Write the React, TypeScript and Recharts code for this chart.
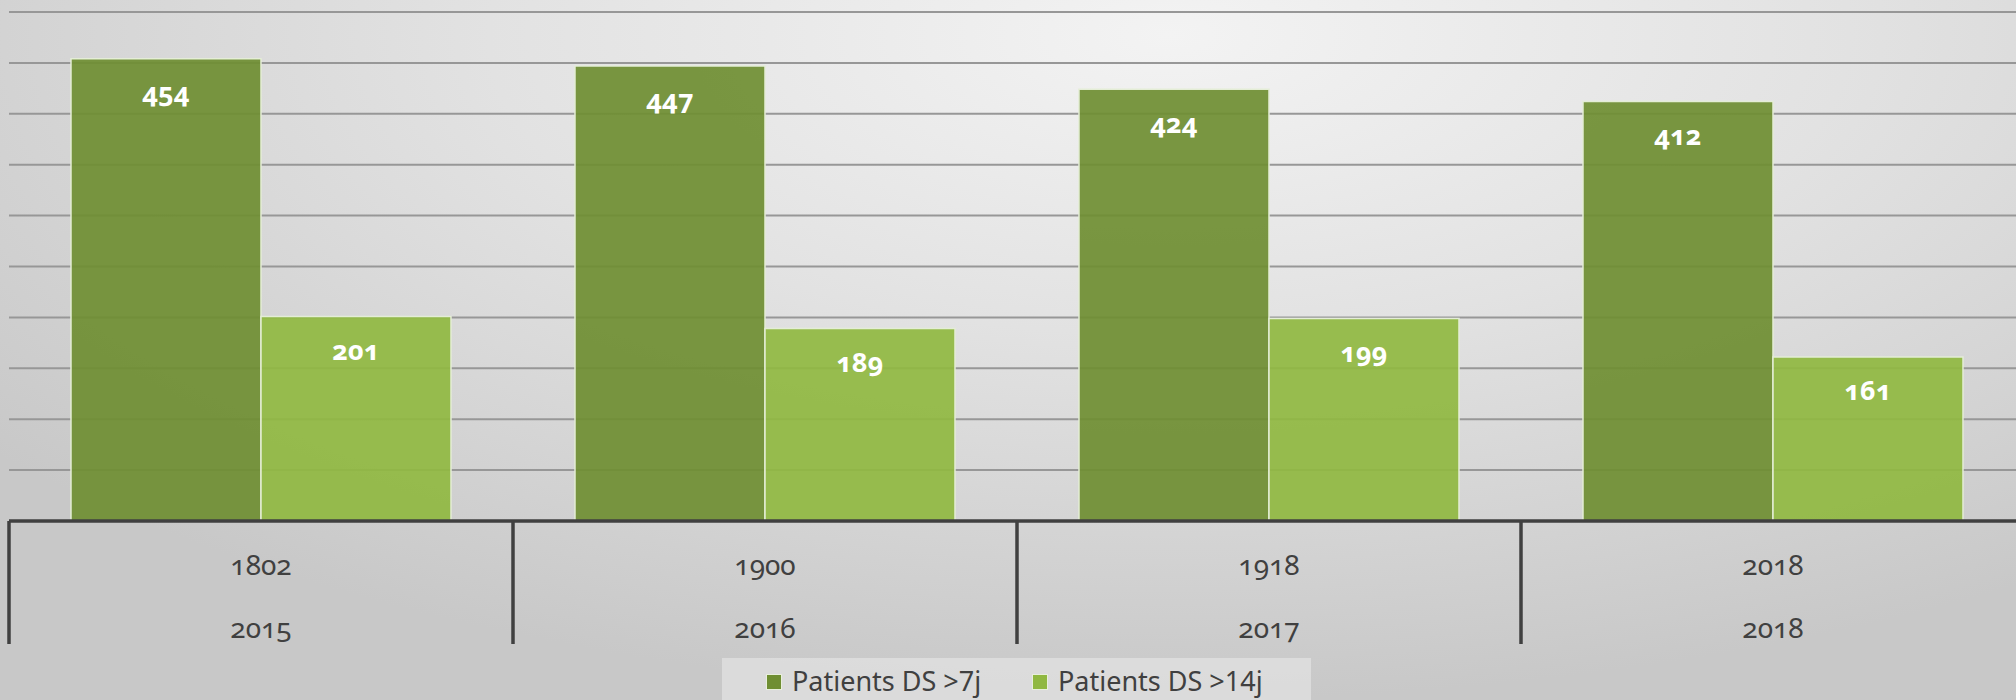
import React from 'react';
import { BarChart, Bar, XAxis, YAxis, CartesianGrid, Legend, LabelList } from 'recharts';

const codes = ['1802', '1900', '1918', '2018'];
const years = ['2015', '2016', '2017', '2018'];
const ds7 = [454, 447, 424, 412];
const ds14 = [201, 189, 199, 161];
const yTicks = [0, 50, 100, 150, 200, 250, 300, 350, 400, 450, 500];
const seriesNames = ['Patients DS >7j', 'Patients DS >14j'];

const data = codes.map((c, i) => ({ code: c, year: years[i], ds7: ds7[i], ds14: ds14[i] }));

const FONT = '"Noto Sans", "Open Sans", sans-serif';
const AXIS_COLOR = '#404040';
const DARK = '#6f8e32';
const LIGHT = '#90b841';

const CHART_W = 2030;
const CHART_H = 700;
const MARGIN = { top: 12, right: 5, left: 9, bottom: 0 };
const BAND = (CHART_W - MARGIN.left - MARGIN.right) / codes.length;

const CategoryTick = (props: any) => {
  const { x, y, payload, index } = props;
  const half = payload && payload.offset ? payload.offset : BAND / 2;
  const year = years[index];
  const isLast = index === codes.length - 1;
  return (
    <g>
      <line x1={x - half} y1={y} x2={x - half} y2={y + 123} stroke={AXIS_COLOR} strokeWidth={3.5} />
      {isLast && (
        <line x1={x + half} y1={y} x2={x + half} y2={y + 123} stroke={AXIS_COLOR} strokeWidth={3.5} />
      )}
      <text
        x={x}
        y={y + 43}
        textAnchor="middle"
        dominantBaseline="central"
        fill={AXIS_COLOR}
        fontSize={28}
        fontFamily={FONT}
        style={{ fontVariantNumeric: 'oldstyle-nums' }}
      >
        {payload.value}
      </text>
      <text
        x={x}
        y={y + 106}
        textAnchor="middle"
        dominantBaseline="central"
        fill={AXIS_COLOR}
        fontSize={28}
        fontFamily={FONT}
        style={{ fontVariantNumeric: 'oldstyle-nums' }}
      >
        {year}
      </text>
    </g>
  );
};

const LegendContent = (props: any) => {
  const payload = [...(props.payload || [])].sort(
    (a: any, b: any) => seriesNames.indexOf(a.value) - seriesNames.indexOf(b.value)
  );
  const lefts = [44, 310];
  return (
    <div
      style={{
        position: 'relative',
        width: 589,
        height: 42,
        background: 'rgba(238,238,238,0.5)',
        fontFamily: FONT,
      }}
    >
      {payload.map((p: any, i: number) => (
        <div
          key={i}
          style={{
            position: 'absolute',
            left: lefts[i] ?? 44 + i * 266,
            top: 0,
            height: 42,
            display: 'flex',
            alignItems: 'center',
            paddingTop: 4,
            boxSizing: 'border-box',
          }}
        >
          <span
            style={{
              display: 'inline-block',
              width: 14,
              height: 14,
              background: p.color,
              border: '1px solid #e8efdc',
              marginRight: 10,
              marginTop: 2,
            }}
          />
          <span style={{ fontSize: 27, color: AXIS_COLOR, lineHeight: '30px', whiteSpace: 'nowrap' }}>{p.value}</span>
        </div>
      ))}
    </div>
  );
};

export default function App() {
  return (
    <div
      style={{
        position: 'absolute',
        left: 0,
        top: 0,
        width: 2016,
        height: 700,
        overflow: 'hidden',
        background:
          'radial-gradient(ellipse 75% 95% at 58% 5%, #f3f3f3 0%, #e2e2e2 45%, #d4d4d4 75%, #c8c8c8 100%)',
      }}
    >
      <BarChart
        width={CHART_W}
        height={CHART_H}
        data={data}
        margin={MARGIN}
        barGap={0}
        barCategoryGap="12.3%"
      >
        <CartesianGrid vertical={false} stroke="#979797" strokeWidth={2} />
        <YAxis hide domain={[0, 500]} ticks={yTicks} interval={0} />
        <XAxis
          dataKey="code"
          height={137}
          tickLine={false}
          tickSize={0}
          tickMargin={0}
          axisLine={{ stroke: AXIS_COLOR, strokeWidth: 3.5 }}
          tick={<CategoryTick />}
          interval={0}
        />
        <Legend
          verticalAlign="bottom"
          content={<LegendContent />}
          wrapperStyle={{ left: 722, bottom: 0, width: 589, height: 42 }}
        />
        <Bar
          dataKey="ds7"
          name={seriesNames[0]}
          fill={DARK}
          fillOpacity={0.92}
          stroke="#e4edd6"
          strokeWidth={1.5}
          isAnimationActive={false}
        >
          <LabelList
            dataKey="ds7"
            position="insideTop"
            offset={24}
            fill="#ffffff"
            fontSize={27}
            fontWeight={700}
            fontFamily={FONT}
            style={{ fontVariantNumeric: 'oldstyle-nums' }}
          />
        </Bar>
        <Bar
          dataKey="ds14"
          name={seriesNames[1]}
          fill={LIGHT}
          fillOpacity={0.92}
          stroke="#e4edd6"
          strokeWidth={1.5}
          isAnimationActive={false}
        >
          <LabelList
            dataKey="ds14"
            position="insideTop"
            offset={24}
            fill="#ffffff"
            fontSize={27}
            fontWeight={700}
            fontFamily={FONT}
            style={{ fontVariantNumeric: 'oldstyle-nums' }}
          />
        </Bar>
      </BarChart>
    </div>
  );
}
